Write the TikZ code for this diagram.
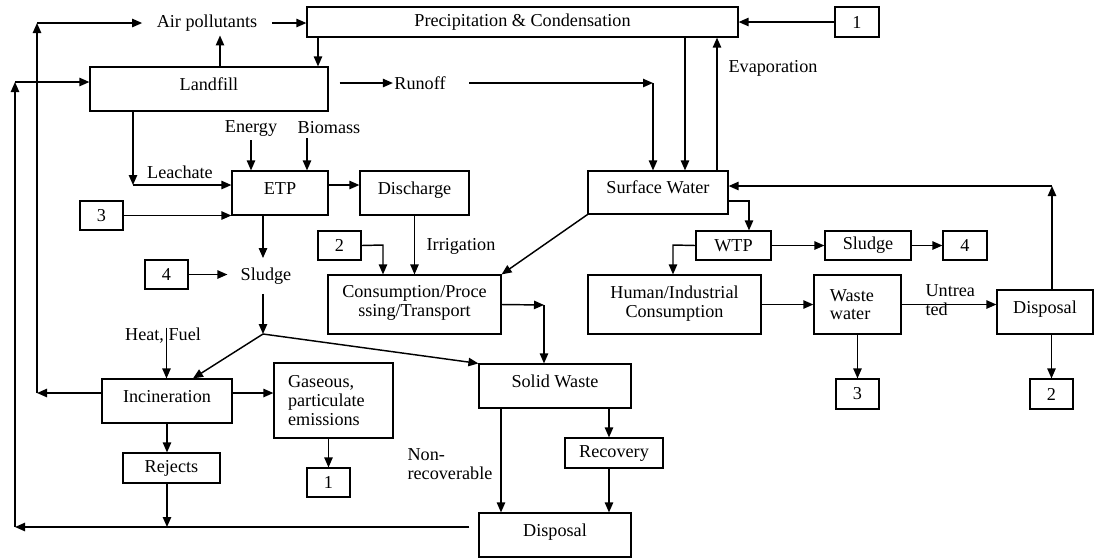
\documentclass[tikz,border=0pt]{standalone}
\usepackage{fontspec}
\setmainfont{Liberation Serif}
\usetikzlibrary{arrows.meta, positioning}

\begin{document}
\begin{tikzpicture}[x=0.55pt, y=-0.55pt, font=\fontsize{10}{10.3}\selectfont, line width=0.65pt,
  blk/.style={draw, rectangle, align=center},
  wh/.style 2 args={minimum width=#1*0.55pt, minimum height=#2*0.55pt},
  tall/.style={text height=6.8pt, text depth=5.5pt},
  lbl/.style={inner sep=2pt, align=left},
  arr/.style={line width=0.8pt, -{Triangle[length=5.5pt, width=4.6pt]}}]
\useasboundingbox (0,0) rectangle (1094,558);

% water cycle
\node[blk, wh={431}{30}] (precip) at (522.5,22) {Precipitation \& Condensation};
\node[blk, wh={44}{30}] (oneA) at (857,22) {1};
\node[lbl, inner xsep=7.7pt] (air) at (207,23) {Air pollutants};
\node[blk, tall, wh={238}{44}] (landfill) at (209,89) {Landfill};
\node[lbl, inner xsep=0.5pt] (runoff) at (420,83) {Runoff};
\node[lbl] (evap) at (773,68) {Evaporation};
\node[blk, tall, wh={140}{43}] (sw) at (658,192.5) {Surface Water};

% treatment
\node[lbl] (energy) at (251,128) {Energy};
\node[lbl] (biomass) at (329,128) {Biomass};
\node[lbl] (leachate) at (180,172) {Leachate};
\node[blk, tall, wh={96}{44}] (etp) at (280,193) {ETP};
\node[blk, tall, wh={109}{44}] (discharge) at (414.5,193) {Discharge};
\node[blk, wh={43}{29}] (threeA) at (101.5,215.5) {3};
\node[blk, wh={43}{29}] (twoA) at (339.5,245.5) {2};
\node[lbl] (irrig) at (461,246) {Irrigation};
\node[blk, wh={43}{29}] (fourA) at (166.5,274.5) {4};
\node[lbl, inner xsep=7pt, inner ysep=5pt] (sludgeA) at (266,276) {Sludge};
\node[blk, wh={173}{59}, text depth=3.5pt] (cons) at (414.5,304.5) {Consumption/Proce\\ssing/Transport};

% water use
\node[blk, wh={75}{29}] (wtp) at (733.5,245.5) {WTP};
\node[blk, wh={86}{29}] (sludgeB) at (868,245.5) {Sludge};
\node[blk, wh={44}{29}] (fourB) at (965,245.5) {4};
\node[blk, wh={173}{59}, text depth=3.5pt] (hic) at (674.5,304.5) {Human/Industrial\\Consumption};
\node[blk, wh={87}{59}, text width=30.3pt, inner xsep=8.8pt, align=left] (ww) at (857.5,304.5) {Waste\\water};
\node[lbl, anchor=west, inner sep=0pt] (untr) at (925,300) {Untrea\\ted};
\node[blk, tall, wh={96}{44}] (dispB) at (1045,312) {Disposal};
\node[blk, wh={43}{30}] (threeB) at (857.5,394) {3};
\node[blk, wh={43}{30}] (twoB) at (1051.5,394) {2};

% solid waste
\node[lbl, inner sep=0pt] (heat) at (163,336) {Heat, Fuel};
\node[blk, tall, wh={130}{44}] (incin) at (167,401) {Incineration};
\node[blk, wh={119}{75}, text width=50pt, inner xsep=7.7pt, align=left] (gas) at (333.5,400.5) {Gaseous,\\particulate\\emissions};
\node[blk, wh={43}{29}] (oneB) at (328.5,482.5) {1};
\node[blk, wh={97}{30}] (rejects) at (171.5,468) {Rejects};
\node[blk, tall, wh={152}{44}] (solid) at (555,386) {Solid Waste};
\node[blk, wh={98}{30}] (recov) at (614,453) {Recovery};
\node[lbl, anchor=west, inner sep=0pt] (nonrec) at (407,464) {Non-\\recoverable};
\node[blk, tall, wh={152}{44}] (dispA) at (555,535) {Disposal};

% bends and line positions
\coordinate (lA) at (37,393);
\coordinate (lB) at (37,23);
\coordinate (oA) at (15,527);
\coordinate (oB) at (15,82);
\coordinate (xp) at (318,52);
\coordinate (ax) at (220,52);
\coordinate (rc) at (653,83);
\coordinate (xd) at (685,100);
\coordinate (xe) at (717,100);
\coordinate (swc) at (749,201);
\coordinate (dc) at (1052,186);
\coordinate (wc) at (673,245);
\coordinate (tc) at (383,245);
\coordinate (cc) at (544,305);
\coordinate (lc) at (133,185);
\coordinate (bx) at (307,150);
\coordinate (sp) at (263,334);
\coordinate (ix) at (193,379);
\coordinate (hx) at (166.5,360);
\coordinate (nx) at (501,460);
\coordinate (rx) at (609,420);

% top
\draw[arr] (oneA.west) -- (precip.east |- oneA.west);
\draw[arr] (air.east) -- (precip.west |- air.east);
\draw[arr] (precip.south -| xp) -- (landfill.north -| xp);
\draw[arr] (landfill.north -| ax) -- (air.south -| ax);

% left loops
\draw[arr] (incin.west |- lA) -- (lA);
\draw[arr] (lA) -- (lB);
\draw[arr] (lB) -- (air.west);
\draw[arr] (dispA.west |- oA) ++(-9,0) -- (oA);
\draw[arr] (oA) -- (oB);
\draw[arr] (oB) -- (landfill.west |- oB);

% landfill outputs
\draw[arr] (landfill.east |- runoff.west) ++(11,0) -- (runoff.west);
\draw[arr] (runoff.east) ++(22,0) -- (rc);
\draw[arr] (rc) -- (sw.north -| rc);
\draw[arr] (landfill.south -| lc) -- (lc);
\draw[arr] (lc) -- (etp.west |- lc);

% water
\draw[arr] (precip.south -| xd) -- (sw.north -| xd);
\draw[arr] (sw.north -| xe) -- (precip.south -| xe);
\draw[arr] (sw.east |- swc) -- (swc) -- (wtp.north -| swc);
\draw[arr] (wtp) -- (sludgeB);
\draw[arr] (sludgeB) -- (fourB);
\draw[arr] (wtp.west) -- (wc) -- (hic.north -| wc);
\draw[arr] (hic) -- (ww);
\draw[arr] (ww.east) -- (dispB.west |- ww.east);
\draw[arr] (ww) -- (threeB);
\draw[arr] (dispB.south -| twoB) -- (twoB.north);
\draw[arr] (dispB.north -| dc) -- (dc);
\draw[arr] (dc) -- (sw.east |- dc);

% treatment
\draw[arr] (energy.south) -- (energy.south |- etp.north);
\draw[arr] (biomass.south -| bx) -- (etp.north -| bx);
\draw[arr] (etp.east |- lc) -- (discharge.west |- lc);
\draw[arr] (threeA.east) -- (etp.west |- threeA.east);
\draw[arr] (etp.south -| sp) -- (sludgeA.north -| sp);
\draw[arr] (fourA.east) -- (sludgeA.west |- fourA.east);
\draw[arr] (sludgeA.south -| sp) -- (sp);
\draw[arr] (sp) -- (incin.north -| ix);
\draw[arr] (sp) -- (solid.north west);
\draw[arr] (heat.north -| hx) -- (incin.north -| hx);

% incineration
\draw[arr] (incin.east |- lA) -- (gas.west |- lA);
\draw[arr] (incin.south) -- (incin.south |- rejects.north);
\draw[arr] (incin.south |- rejects.south) -- (incin.south |- oA);
\draw[arr] (gas.south -| oneB) -- (oneB.north);

% consumption
\draw[arr] (discharge) -- (cons);
\draw[arr] (twoA.east) -- (tc) -- (cons.north -| tc);
\draw[arr] (sw.south west) -- (cons.north east);
\draw[arr] (cons.east) -- (cc);
\draw[arr] (cc) -- (solid.north -| cc);
\draw[arr] (solid.south -| nx) -- (dispA.north -| nx);
\draw[arr] (solid.south -| rx) -- (recov.north -| rx);
\draw[arr] (recov.south -| rx) -- (dispA.north -| rx);
\end{tikzpicture}
\end{document}
